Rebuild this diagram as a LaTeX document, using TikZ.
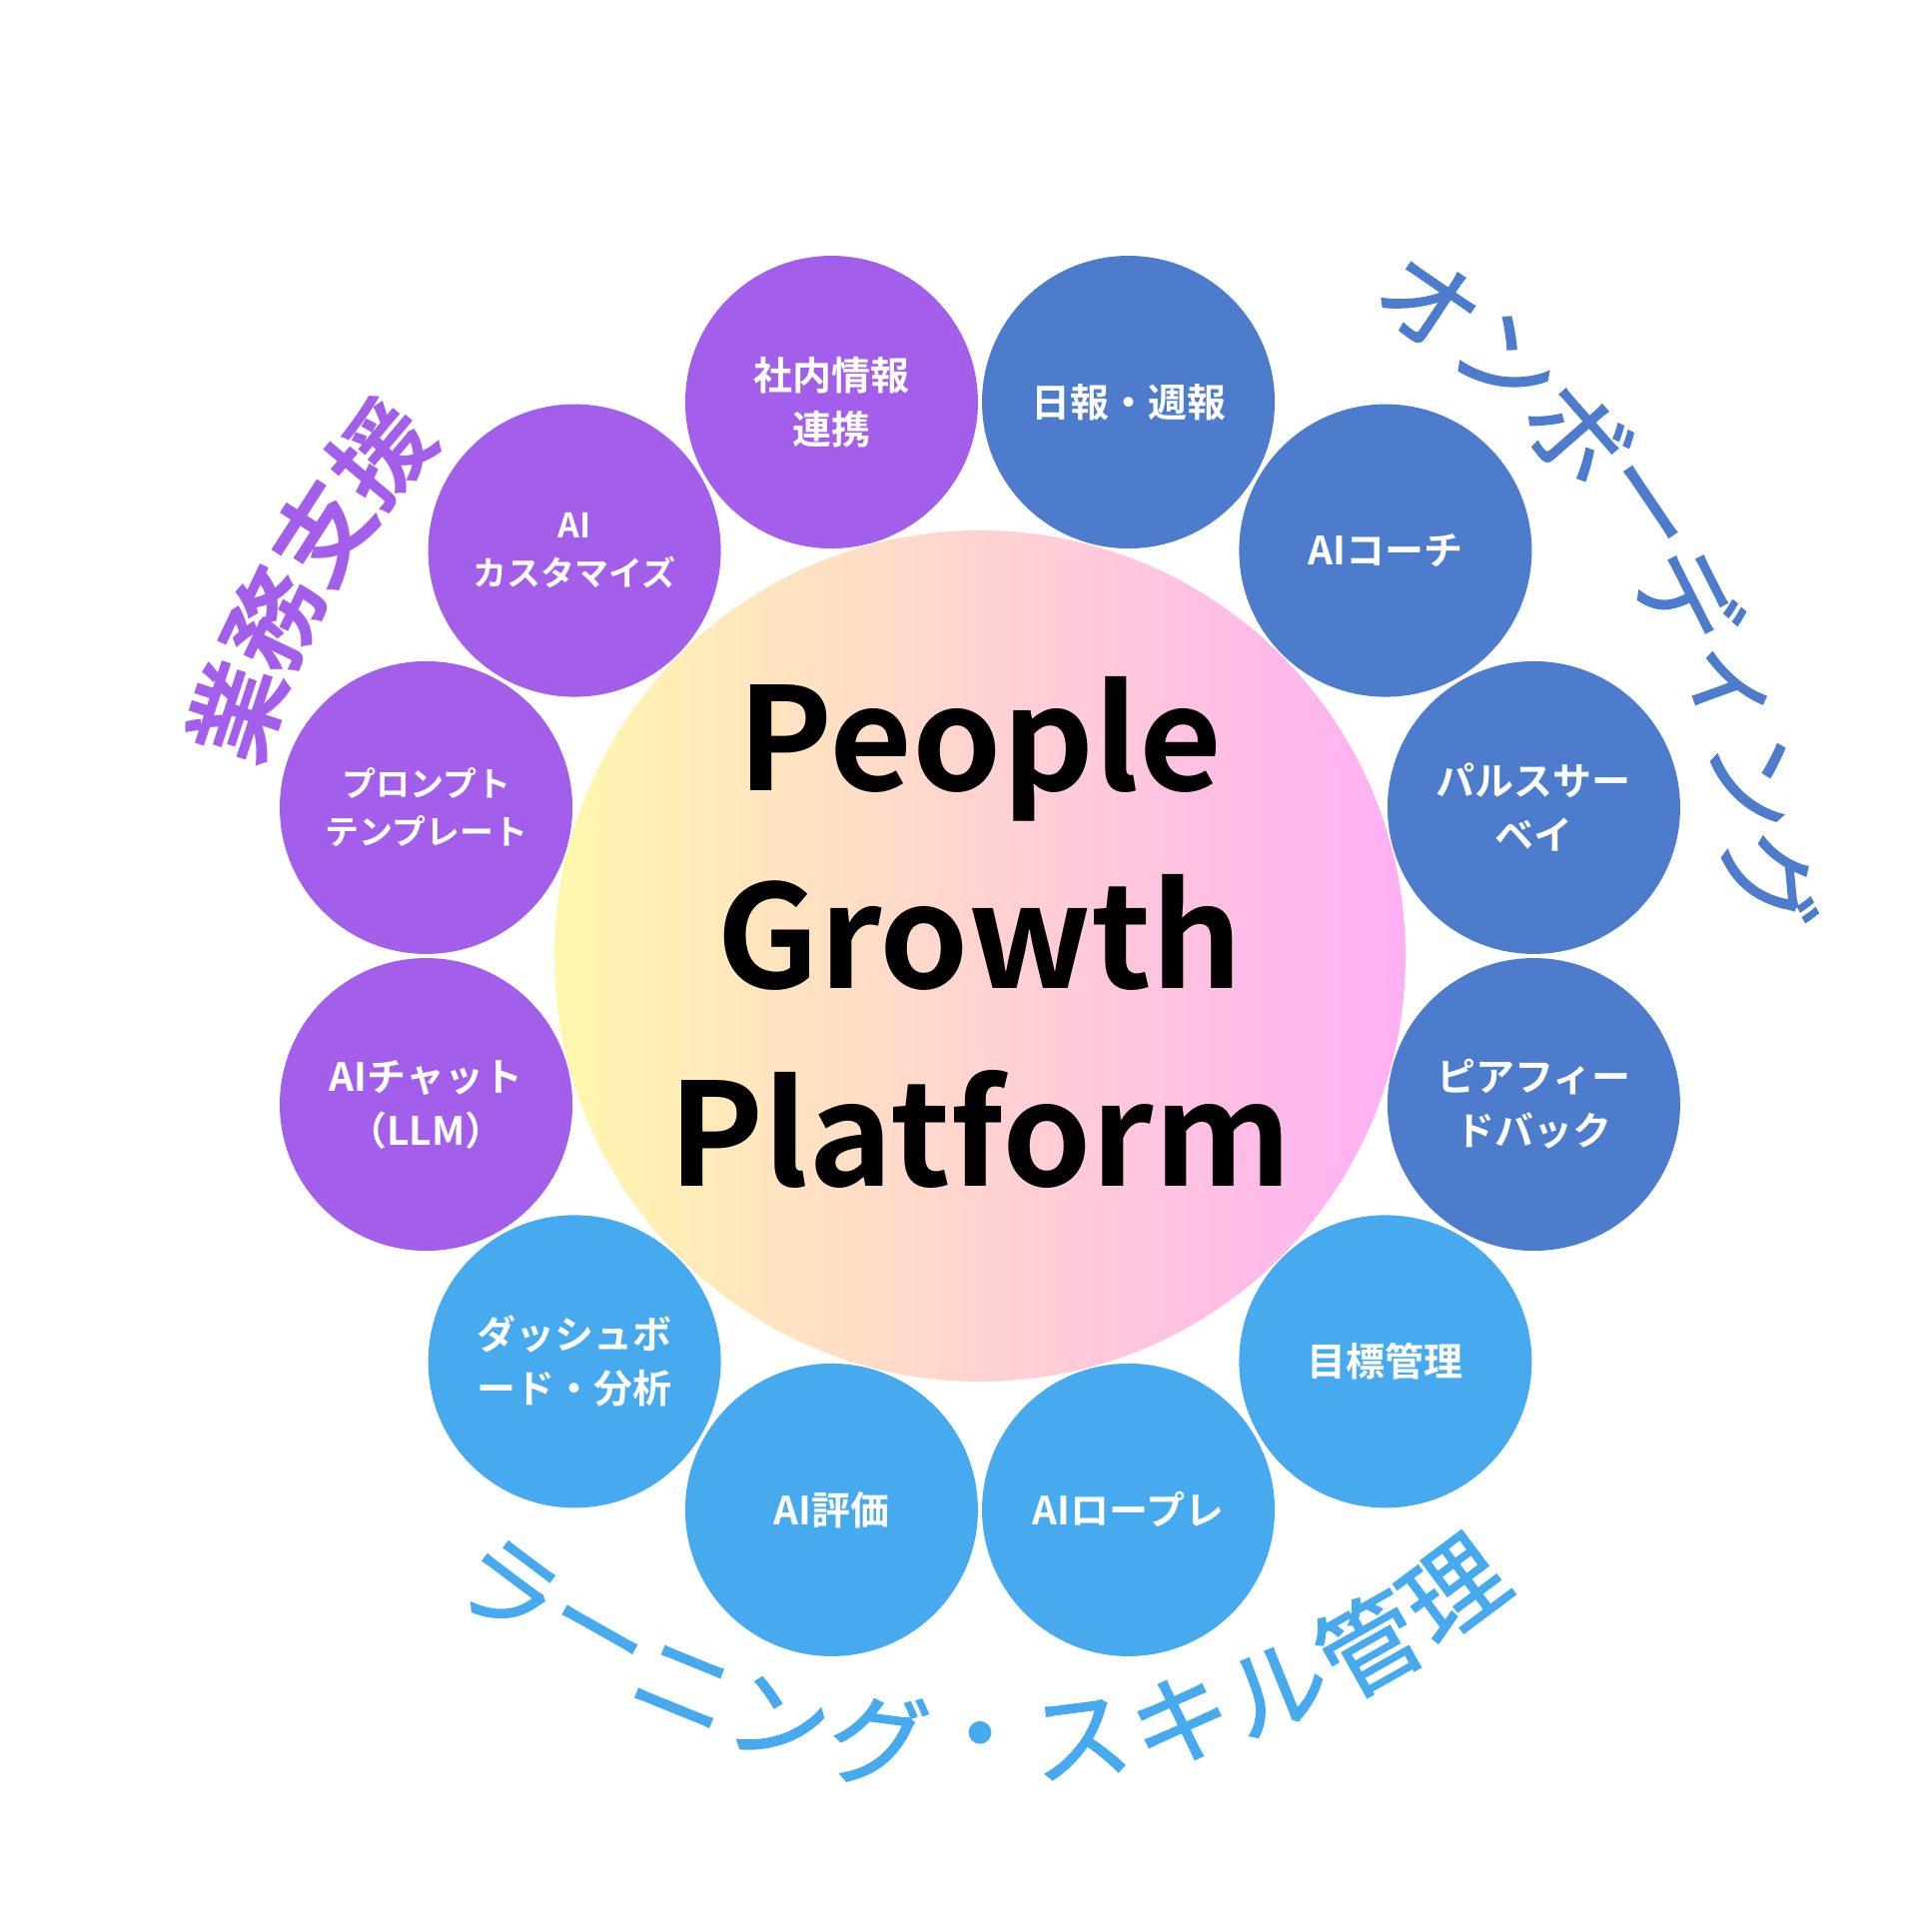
\documentclass[tikz,border=0pt]{standalone}
\usepackage{fontspec}
\usepackage{tikz}
\newfontfamily\jpfont{Noto Sans CJK JP}[BoldFont={Noto Sans CJK JP Bold}]
\newfontfamily\jparc{Noto Sans CJK JP}[FakeBold=1.5]
\definecolor{violetc}{HTML}{A35FE9}
\definecolor{navyc}{HTML}{4D7CCD}
\definecolor{skyc}{HTML}{48AAEE}
\definecolor{lemonc}{HTML}{FFF7AD}
\definecolor{rosec}{HTML}{FFAFF4}
\tikzset{
  bubble/.style={circle, minimum size=293pt, inner sep=0pt, text=white, align=center,
    font=\jpfont\bfseries\fontsize{39}{54}\selectfont},
  smallbubble/.style={bubble, font=\jpfont\bfseries\fontsize{34}{48}\selectfont},
  hubtext/.style={align=center, inner sep=0pt, font=\jpfont\bfseries\fontsize{143}{198}\selectfont},
  arcchar/.style={inner sep=0pt, font=\jparc\fontsize{100}{100}\selectfont},
  arcbold/.style={inner sep=0pt, text=violetc, font=\jpfont\bfseries\fontsize{98}{98}\selectfont},
}

\begin{document}
\begin{tikzpicture}[x=1pt, y=1pt]
    \useasboundingbox (-981,-977) rectangle (939,957);
    % hub
    \node [circle, minimum size=852pt, inner sep=0pt, left color=lemonc, right color=rosec] (0) at (0, 0) {};
    \node [hubtext] (13) at (0, 24) {People\\Growth\\Platform};
    % bubbles
    \node [bubble, fill=violetc] (1) at (105:574) {社内情報\\連携};
    \node [bubble, fill=navyc] (2) at (75:574) {日報・週報};
    \node [bubble, fill=navyc] (3) at (45:574) {AIコーチ};
    \node [bubble, fill=navyc] (4) at (15:574) {パルスサー\\ベイ};
    \node [bubble, fill=navyc] (5) at (-15:574) {ピアフィー\\ドバック};
    \node [bubble, fill=skyc] (6) at (-45:574) {目標管理};
    \node [bubble, fill=skyc] (7) at (-75:574) {AIロープレ};
    \node [bubble, fill=skyc] (8) at (-105:574) {AI評価};
    \node [bubble, fill=skyc] (9) at (-135:574) {ダッシュボ\\ード・分析};
    \node [bubble, fill=violetc] (10) at (195:574) {AIチャット\\（LLM）};
    \node [smallbubble, fill=violetc] (11) at (165:574) {プロンプト\\テンプレート};
    \node [smallbubble, fill=violetc] (12) at (135:574) {AI\\カスタマイズ};
    % group titles, one glyph per node
    \node [arcbold, rotate=71.8] (20) at (161.8:783) {業};
    \node [arcbold, rotate=64.5] (21) at (154.5:783) {務};
    \node [arcbold, rotate=57.2] (22) at (147.2:783) {支};
    \node [arcbold, rotate=49.9] (23) at (139.9:783) {援};
    \node [arcchar, text=navyc, rotate=-34.5] (30) at (55.5:794) {オ};
    \node [arcchar, text=navyc, rotate=-41.6] (31) at (48.4:794) {ン};
    \node [arcchar, text=navyc, rotate=-48.8] (32) at (41.2:794) {ボ};
    \node [arcchar, text=navyc, rotate=-55.9] (33) at (34.1:794) {ー};
    \node [arcchar, text=navyc, rotate=-63.1] (34) at (26.9:794) {デ};
    \node [arcchar, text=navyc, rotate=-70.2] (35) at (19.8:794) {ィ};
    \node [arcchar, text=navyc, rotate=-77.4] (36) at (12.6:794) {ン};
    \node [arcchar, text=navyc, rotate=-84.5] (37) at (5.5:794) {グ};
    \node [arcchar, text=skyc, rotate=-36.8] (40) at (233.2:791) {ラ};
    \node [arcchar, text=skyc, rotate=-29.44] (41) at (240.56:791) {ー};
    \node [arcchar, text=skyc, rotate=-22.08] (42) at (247.92:791) {ニ};
    \node [arcchar, text=skyc, rotate=-14.72] (43) at (255.28:791) {ン};
    \node [arcchar, text=skyc, rotate=-7.36] (44) at (262.64:791) {グ};
    \node [arcchar, text=skyc] (45) at (270:791) {・};
    \node [arcchar, text=skyc, rotate=7.36] (46) at (277.36:791) {ス};
    \node [arcchar, text=skyc, rotate=14.72] (47) at (284.72:791) {キ};
    \node [arcchar, text=skyc, rotate=22.08] (48) at (292.08:791) {ル};
    \node [arcchar, text=skyc, rotate=29.44] (49) at (299.44:791) {管};
    \node [arcchar, text=skyc, rotate=36.8] (50) at (306.8:791) {理};
\end{tikzpicture}
\end{document}
